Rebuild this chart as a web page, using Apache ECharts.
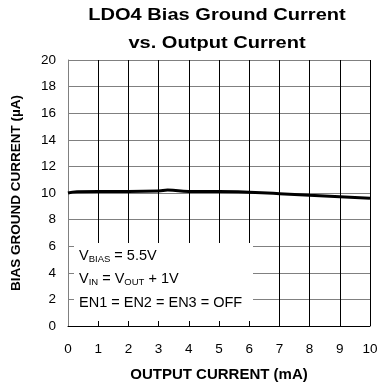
<!DOCTYPE html>
<html><head><meta charset="utf-8">
<script src="https://cdn.jsdelivr.net/npm/echarts@6/dist/echarts.min.js"></script>
<style>html,body{margin:0;padding:0;background:#fff}#c{width:387px;height:387px}</style>
</head><body><div id="c"></div>
<script>
const outputCurrent = [0, 0.3, 1, 2, 3, 3.3, 4, 5, 6, 7, 8, 9, 10];
const biasCurrent = [10.0, 10.1, 10.12, 10.12, 10.15, 10.22, 10.12, 10.12, 10.05, 9.95, 9.83, 9.72, 9.6];
const xTicks = [0,1,2,3,4,5,6,7,8,9,10];
const yTicks = [0,2,4,6,8,10,12,14,16,18,20];
const titleLines = ['LDO4 Bias Ground Current', 'vs. Output Current'];
const FONT = 'Liberation Sans, Arial, sans-serif';
const chart = echarts.init(document.getElementById('c'));
chart.setOption({
  animation: false,
  backgroundColor: '#fff',
  grid: {left: 68, right: 17, top: 60, bottom: 60},
  xAxis: {
    type: 'value', min: 0, max: 10, interval: 1,
    name: 'OUTPUT CURRENT (mA)', nameLocation: 'middle', nameGap: 41,
    nameTextStyle: {fontFamily: FONT, fontWeight: 'bold', fontSize: 15, color: '#000'},
    axisLine: {show: true, lineStyle: {color: '#000', width: 1}},
    axisTick: {show: false},
    axisLabel: {fontFamily: FONT, fontSize: 13.5, color: '#000', margin: 16,
      formatter: v => xTicks.includes(v) ? String(v) : ''},
    splitLine: {show: true, lineStyle: {color: '#000', width: 1}}
  },
  yAxis: {
    type: 'value', min: 0, max: 20, interval: 2,
    name: 'BIAS GROUND CURRENT (µA)', nameLocation: 'middle', nameGap: 45, nameRotate: 90,
    nameTextStyle: {fontFamily: FONT, fontWeight: 'bold', fontSize: 13.5, color: '#000'},
    axisLine: {show: true, lineStyle: {color: '#808080', width: 1}},
    axisTick: {show: false},
    axisLabel: {fontFamily: FONT, fontSize: 13.5, color: '#000', margin: 12,
      formatter: v => yTicks.includes(v) ? String(v) : ''},
    splitLine: {show: true, lineStyle: {color: '#808080', width: 1}}
  },
  series: [{
    type: 'line', smooth: true, symbol: 'none',
    data: outputCurrent.map((x, i) => [x, biasCurrent[i]]),
    lineStyle: {color: '#000', width: 3}
  }],
  graphic: [{
    type: 'text', x: 217, y: 15, scaleX: 1.18, z: 100,
    style: {text: titleLines[0], fontFamily: FONT, fontWeight: 'bold', fontSize: 17, fill: '#000',
      textAlign: 'center', textVerticalAlign: 'middle'}
  }, {
    type: 'text', x: 217, y: 43, scaleX: 1.18, z: 100,
    style: {text: titleLines[1], fontFamily: FONT, fontWeight: 'bold', fontSize: 17, fill: '#000',
      textAlign: 'center', textVerticalAlign: 'middle'}
  }, {
    type: 'rect', z: 100,
    shape: {x: 74, y: 243, width: 179, height: 78},
    style: {fill: '#fff'}
  }, {
    type: 'text', z: 101, left: 79, top: 247,
    style: {
      rich: {
        n: {fontFamily: FONT, fontSize: 14.5, color: '#000', lineHeight: 23.5},
        s: {fontFamily: FONT, fontSize: 9.5, color: '#000', verticalAlign: 'middle', lineHeight: 10, padding: [7, 0, 0, 0]}
      },
      text: '{n|V}{s|BIAS}{n| = 5.5V}\n{n|V}{s|IN}{n| = V}{s|OUT}{n| + 1V}\n{n|EN1 = EN2 = EN3 = OFF}'
    }
  }]
});
</script></body></html>
